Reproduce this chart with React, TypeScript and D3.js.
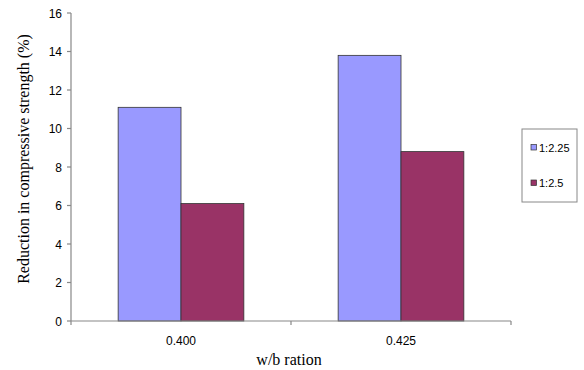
import React from "react";
import * as d3 from "d3";

const categories = ["0.400", "0.425"];
const seriesNames = ["1:2.25", "1:2.5"];
const mix225 = [11.1, 13.8];
const mix25 = [6.1, 8.8];
const yTicks = [0, 2, 4, 6, 8, 10, 12, 14, 16];

const colors = ["#9999FF", "#993366"];
const sans = "'Liberation Sans', Arial, sans-serif";
const serif = "'Liberation Serif', 'Times New Roman', serif";

export default function App() {
  const width = 584;
  const height = 370;
  const left = 71;
  const right = 511;
  const top = 13;
  const bottom = 321;

  const x = d3.scaleBand<string>().domain(categories).range([left, right]).paddingInner(0).paddingOuter(0);
  const y = d3.scaleLinear().domain([0, 16]).range([bottom, top]);

  const catW = x.bandwidth();
  const barW = catW / 3.5;
  const series = [mix225, mix25];

  return (
    <svg
      width={width}
      height={height}
      style={{ position: "absolute", left: 0, top: 0, background: "#fff" }}
    >
      {/* bars */}
      {categories.map((c, ci) => {
        const cx = (x(c) as number) + catW / 2;
        return series.map((s, si) => {
          const bx = cx - barW + si * barW;
          return (
            <rect
              key={c + si}
              x={bx}
              y={y(s[ci])}
              width={barW}
              height={y(0) - y(s[ci])}
              fill={colors[si]}
              stroke="#333"
              strokeWidth={0.8}
            />
          );
        });
      })}

      {/* y axis */}
      <line x1={left} x2={left} y1={top} y2={bottom} stroke="#888" strokeWidth={1.2} />
      {yTicks.map((t) => (
        <g key={t}>
          <line x1={left - 4} x2={left} y1={y(t)} y2={y(t)} stroke="#888" strokeWidth={1.2} />
          <text x={left - 9} y={y(t) + 4.5} textAnchor="end" fontFamily={sans} fontSize={12} fill="#000">
            {t}
          </text>
        </g>
      ))}

      {/* x axis */}
      <line x1={left} x2={right} y1={bottom} y2={bottom} stroke="#888" strokeWidth={1.2} />
      {[left, ...categories.map((c) => (x(c) as number) + catW)].map((px, i) => (
        <line key={i} x1={px} x2={px} y1={bottom} y2={bottom + 4} stroke="#888" strokeWidth={1.2} />
      ))}
      {categories.map((c) => (
        <text
          key={c}
          x={(x(c) as number) + catW / 2}
          y={345}
          textAnchor="middle"
          fontFamily={sans}
          fontSize={12}
          fill="#000"
        >
          {c}
        </text>
      ))}

      {/* axis titles */}
      <text x={(left + right) / 2 - 2} y={365} textAnchor="middle" fontFamily={serif} fontSize={16} fill="#000">
        w/b ration
      </text>
      <text
        transform={`translate(29, 159) rotate(-90)`}
        textAnchor="middle"
        fontFamily={serif}
        fontSize={16}
        fill="#000"
      >
        Reduction in compressive strength (%)
      </text>

      {/* legend */}
      <rect x={522} y={129} width={55} height={73} fill="#fff" stroke="#888" strokeWidth={1} />
      {seriesNames.map((n, i) => {
        const ly = 147.5 + i * 35.5;
        return (
          <g key={n}>
            <rect x={531} y={ly - 3} width={5.5} height={5.5} fill={colors[i]} stroke="#333" strokeWidth={0.7} />
            <text x={539} y={ly + 4} fontFamily={sans} fontSize={11} fill="#000">
              {n}
            </text>
          </g>
        );
      })}
    </svg>
  );
}
